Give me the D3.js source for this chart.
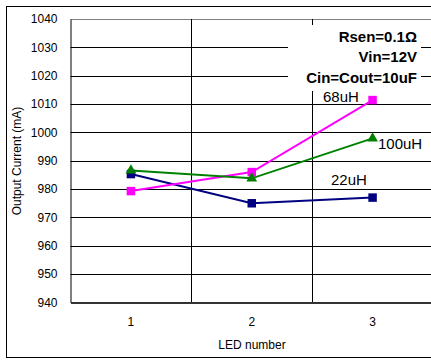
<!DOCTYPE html>
<html><head><meta charset="utf-8">
<script src="https://cdn.jsdelivr.net/npm/d3@7"></script>
<style>body{margin:0;background:#fff}svg{display:block}text{font-family:"Liberation Sans",Arial,sans-serif}</style>
</head><body>
<script>
const categories = ["1","2","3"];
const yTicks = [940,950,960,970,980,990,1000,1010,1020,1030,1040];
const series22 = [985.3, 975.0, 977.0];
const series68 = [979.3, 986.0, 1011.4];
const series100 = [986.6, 983.8, 997.9];
const seriesNames = ["22uH","68uH","100uH"];
const notes = ["Rsen=0.1\u03A9","Vin=12V","Cin=Cout=10uF"];

const W=431,H=361;
const svg=d3.select("body").append("svg").attr("width",W).attr("height",H);
svg.append("rect").attr("width",W).attr("height",H).attr("fill","#fff");
// outer border
svg.append("rect").attr("x",6.5).attr("y",6.5).attr("width",440).attr("height",351)
  .attr("fill","none").attr("stroke","#000").attr("stroke-width",1);

const x=d3.scaleBand().domain(categories).range([70.5,433]);
const y=d3.scaleLinear().domain([940,1040]).range([302.5,19]);

// horizontal gridlines
const g=svg.append("g");
g.selectAll("line.h").data(yTicks.slice(1)).join("line")
  .attr("x1",70.5).attr("x2",433).attr("y1",d=>Math.round(y(d))+0.5).attr("y2",d=>Math.round(y(d))+0.5)
  .attr("stroke",d=>d===1040?"#808080":"#000").attr("stroke-width",1);
// vertical gridlines (category boundaries)
g.selectAll("line.v").data(categories.slice(1)).join("line")
  .attr("x1",d=>Math.round(x(d))+0.5).attr("x2",d=>Math.round(x(d))+0.5)
  .attr("y1",19).attr("y2",302.5).attr("stroke","#000").attr("stroke-width",1);

// axes
const yAxis=svg.append("g").attr("transform","translate(70.5,0)")
  .call(d3.axisLeft(y).tickValues(yTicks).tickSize(0).tickPadding(13).tickFormat(d3.format("d")));
yAxis.select(".domain").attr("stroke","#000");
yAxis.selectAll("text").attr("font-size",12).attr("fill","#000").attr("font-family","Liberation Sans, Arial, sans-serif");
const xAxis=svg.append("g").attr("transform","translate(0,302.5)")
  .call(d3.axisBottom(x).tickSize(0).tickPadding(15));
xAxis.select(".domain").attr("stroke","#333").attr("stroke-width",2);
xAxis.selectAll("text").attr("font-size",12).attr("fill","#000").attr("font-family","Liberation Sans, Arial, sans-serif");

// axis titles
svg.append("text").attr("x",252).attr("y",349).attr("text-anchor","middle").attr("font-size",12)
  .text("LED number");
svg.append("text").attr("transform","translate(21,161) rotate(-90)").attr("text-anchor","middle")
  .attr("font-size",12).text("Output Current (mA)");

// annotation box
svg.append("rect").attr("x",288).attr("y",25).attr("width",133).attr("height",66).attr("fill","#fff");
notes.forEach((t,i)=>{
  svg.append("text").attr("x",417).attr("y",41.5+i*20.5).attr("text-anchor","end")
    .attr("font-size",15).attr("font-weight","bold").text(t);
});

const cx=d=>x(d)+x.bandwidth()/2;
const lineGen=d3.line().x((d,i)=>cx(categories[i])).y(d=>y(d));
const data=[
  {name:"22uH",vals:series22,color:"#000080",shape:"square"},
  {name:"68uH",vals:series68,color:"#FF00FF",shape:"square"},
  {name:"100uH",vals:series100,color:"#008000",shape:"triangle"}
];
data.forEach(s=>{
  svg.append("path").attr("d",lineGen(s.vals)).attr("fill","none").attr("stroke",s.color).attr("stroke-width",2);
});
data.forEach(s=>{
  const sym=d3.symbol().type(s.shape==="square"?d3.symbolSquare:d3.symbolTriangle).size(s.shape==="square"?72:50);
  svg.selectAll(null).data(s.vals).join("path")
    .attr("transform",(d,i)=>`translate(${cx(categories[i])},${y(d)})`)
    .attr("d",sym).attr("fill",s.color);
});

// series labels
svg.append("text").attr("x",323).attr("y",101.5).attr("font-size",15).text(seriesNames[1]);
svg.append("text").attr("x",378).attr("y",149).attr("font-size",15).text(seriesNames[2]);
svg.append("text").attr("x",331).attr("y",184.5).attr("font-size",15).text(seriesNames[0]);
</script>
</body></html>
